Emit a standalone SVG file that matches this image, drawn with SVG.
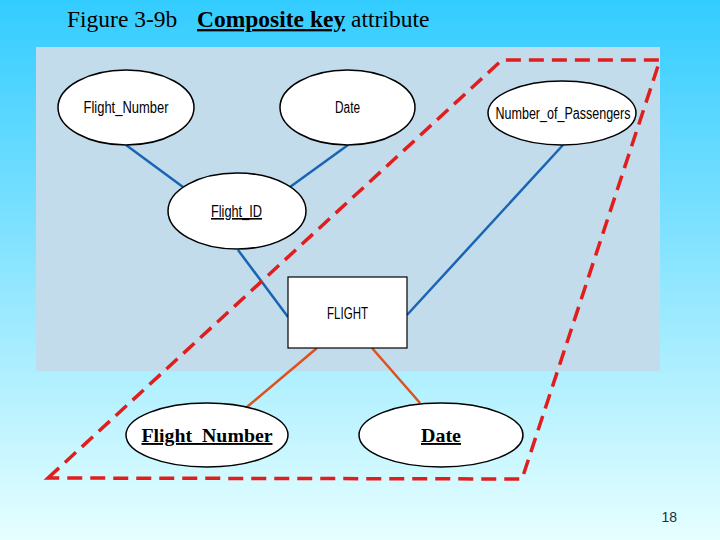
<svg xmlns="http://www.w3.org/2000/svg" width="720" height="540" viewBox="0 0 720 540">
<defs>
<linearGradient id="bg" x1="0" y1="0" x2="0" y2="1">
<stop offset="0" stop-color="#33ccff"/>
<stop offset="1" stop-color="#e6ffff"/>
</linearGradient>
<style>
.ell{fill:#fff;stroke:#000;stroke-width:1.5}
.sans{font-family:"Liberation Sans",Arial,sans-serif;font-size:16px;fill:#000}
.serifb{font-family:"Liberation Serif","Times New Roman",serif;font-size:19px;font-weight:bold;text-decoration:underline;fill:#000}
.blue{stroke:#1a64b4;stroke-width:2.5;fill:none}
.orange{stroke:#e0501c;stroke-width:2.5;fill:none}
</style>
</defs>
<rect width="720" height="540" fill="url(#bg)"/>
<rect x="36" y="47" width="624" height="324" fill="#c2dcec"/>
<text x="67" y="27" font-family="Liberation Serif,'Times New Roman',serif" font-size="23.5" fill="#000">Figure 3-9b<tspan x="197" font-weight="bold" text-decoration="underline">Composite key</tspan> attribute</text>
<g id="connectors">
<line class="blue" x1="126" y1="145" x2="183" y2="187"/>
<line class="blue" x1="348" y1="145" x2="290" y2="187"/>
<line class="blue" x1="238" y1="250" x2="288" y2="317"/>
<line class="blue" x1="563" y1="145" x2="407" y2="315"/>
<line class="orange" x1="317" y1="348" x2="247" y2="407"/>
<line class="orange" x1="372" y1="348" x2="420" y2="403"/>
</g>
<g id="n-flight-number">
<ellipse class="ell" cx="126" cy="107.5" rx="68" ry="37.5"/>
<text class="sans" x="126" y="113" text-anchor="middle" textLength="85" lengthAdjust="spacingAndGlyphs">Flight_Number</text>
</g>
<g id="n-date">
<ellipse class="ell" cx="347.5" cy="107.5" rx="67.5" ry="37.5"/>
<text class="sans" x="347.5" y="113" text-anchor="middle" textLength="25" lengthAdjust="spacingAndGlyphs">Date</text>
</g>
<g id="n-passengers">
<ellipse class="ell" cx="562" cy="113" rx="74" ry="32"/>
<text class="sans" x="563" y="113" dy="6" text-anchor="middle" textLength="135" lengthAdjust="spacingAndGlyphs">Number_of_Passengers</text>
</g>
<g id="n-flight-id">
<ellipse class="ell" cx="237" cy="211" rx="69" ry="38"/>
<text class="sans" x="236.5" y="217" text-anchor="middle" textLength="51" lengthAdjust="spacingAndGlyphs" text-decoration="underline">Flight_ID</text>
</g>
<g id="n-flight">
<rect x="288" y="277" width="119" height="71" fill="#fff" stroke="#000" stroke-width="1.2"/>
<text class="sans" x="347.5" y="319" text-anchor="middle" textLength="41" lengthAdjust="spacingAndGlyphs">FLIGHT</text>
</g>
<g id="n-key-flight-number">
<ellipse class="ell" cx="207" cy="435" rx="81" ry="32"/>
<text class="serifb" x="207" y="442" text-anchor="middle" textLength="131" lengthAdjust="spacingAndGlyphs">Flight_Number</text>
</g>
<g id="n-key-date">
<ellipse class="ell" cx="441" cy="435" rx="82" ry="32"/>
<text class="serifb" x="441" y="442" text-anchor="middle" textLength="40" lengthAdjust="spacingAndGlyphs">Date</text>
</g>
<polygon points="48,478 502,60 660,60 522,479" fill="none" stroke="#e01e1e" stroke-width="3.5" stroke-dasharray="15,8"/>
<text x="677" y="522" text-anchor="end" font-family="Liberation Sans,Arial,sans-serif" font-size="14" fill="#1a3040">18</text>
</svg>
